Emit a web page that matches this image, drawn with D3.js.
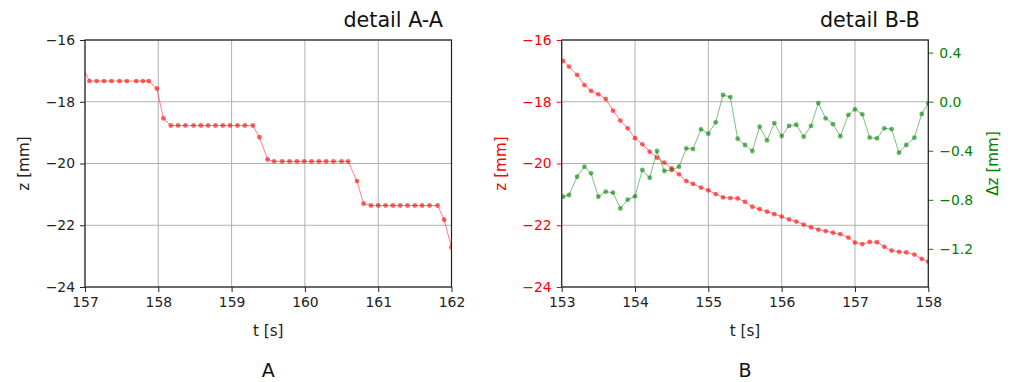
<!DOCTYPE html>
<html>
<head>
<meta charset="utf-8">
<script src="https://cdn.jsdelivr.net/npm/d3@7/dist/d3.min.js"></script>
<style>
  html, body { margin: 0; padding: 0; background: #fff; }
  text { font-family: "DejaVu Sans", sans-serif; }
</style>
</head>
<body>
<svg id="chart" width="1012" height="382"></svg>
<script>
// ---- data: detail A-A ----
const tA = [156.96, 157.06, 157.16, 157.26, 157.36, 157.47, 157.57, 157.70, 157.79, 157.87,
  157.98, 158.07,
  158.17, 158.27, 158.37, 158.48, 158.58, 158.68, 158.78, 158.88, 158.98, 159.08, 159.18, 159.29,
  159.38, 159.49,
  159.58, 159.69, 159.79, 159.89, 159.99, 160.09, 160.19, 160.29, 160.39, 160.50, 160.59,
  160.71, 160.80,
  160.90, 161.00, 161.10, 161.20, 161.30, 161.40, 161.50, 161.60, 161.70, 161.81,
  161.90, 162.00];
const zA = [-16.83, -17.33, -17.33, -17.33, -17.33, -17.33, -17.33, -17.33, -17.33, -17.33,
  -17.57, -18.54,
  -18.77, -18.77, -18.77, -18.77, -18.77, -18.77, -18.77, -18.77, -18.77, -18.77, -18.77, -18.77,
  -19.15, -19.87,
  -19.93, -19.93, -19.93, -19.93, -19.93, -19.93, -19.93, -19.93, -19.93, -19.93, -19.93,
  -20.57, -21.30,
  -21.36, -21.36, -21.36, -21.36, -21.36, -21.36, -21.36, -21.36, -21.36, -21.36,
  -21.82, -22.72];

// ---- data: detail B-B ----
const tB = [153.02, 153.10, 153.21, 153.31, 153.40, 153.50, 153.60, 153.70, 153.80, 153.90,
  154.00, 154.10, 154.20, 154.30, 154.40, 154.50, 154.60, 154.70, 154.79, 154.90,
  155.00, 155.10, 155.20, 155.30, 155.40, 155.50, 155.60, 155.70, 155.80, 155.90,
  156.00, 156.10, 156.20, 156.30, 156.40, 156.50, 156.60, 156.70, 156.80, 156.91,
  157.00, 157.10, 157.20, 157.30, 157.40, 157.50, 157.60, 157.70, 157.81, 157.91, 158.00];
const zB = [-16.68, -16.86, -17.13, -17.46, -17.65, -17.76, -17.91, -18.29, -18.61, -18.86,
  -19.18, -19.38, -19.62, -19.81, -19.97, -20.16, -20.35, -20.57, -20.66, -20.78,
  -20.87, -20.99, -21.10, -21.12, -21.13, -21.24, -21.40, -21.48, -21.56, -21.64,
  -21.72, -21.81, -21.88, -21.98, -22.07, -22.14, -22.19, -22.24, -22.29, -22.40,
  -22.56, -22.61, -22.54, -22.55, -22.70, -22.82, -22.86, -22.88, -22.95, -23.09, -23.18];
const dzB = [-0.775, -0.761, -0.612, -0.530, -0.584, -0.775, -0.734, -0.742, -0.870, -0.799,
  -0.772, -0.557, -0.620, -0.402, -0.565, -0.557, -0.530, -0.380, -0.386, -0.225,
  -0.261, -0.168, 0.055, 0.038, -0.302, -0.353, -0.402, -0.204, -0.315, -0.174,
  -0.280, -0.198, -0.188, -0.285, -0.198, -0.011, -0.136, -0.183, -0.282, -0.108,
  -0.062, -0.103, -0.293, -0.299, -0.217, -0.223, -0.416, -0.353, -0.294, -0.100, -0.013];

// ---- tick labels ----
const xTicksA = [157, 158, 159, 160, 161, 162];
const xTicksB = [153, 154, 155, 156, 157, 158];
const zTicks = [-16, -18, -20, -22, -24];
const dzTicks = [0.4, 0.0, -0.4, -0.8, -1.2];

const svg = d3.select("#chart");
const plotTop = 40, plotBottom = 287;
const RED = "#ff0000", GREEN = "#008000";
const TICK_FS = 13.9, LABEL_FS = 15.2, TITLE_FS = 20.7, LETTER_FS = 19;
const fmt = v => (v < 0 ? "\u2212" : "") + Math.abs(v);
const fmt1 = v => (v < 0 ? "\u2212" : "") + Math.abs(v).toFixed(1);

const defs = svg.append("defs");

function panel(opt) {
  const x = d3.scaleLinear().domain(opt.xdom).range([opt.left, opt.right]);
  const y = d3.scaleLinear().domain([-24, -16]).range([plotBottom, plotTop]);
  const g = svg.append("g");
  const clipId = "clip" + opt.id;
  defs.append("clipPath").attr("id", clipId).append("rect")
    .attr("x", opt.left).attr("y", plotTop).attr("width", opt.right - opt.left).attr("height", plotBottom - plotTop);

  // grid
  const grid = g.append("g").attr("stroke", "#b0b0b0").attr("stroke-width", 1);
  opt.xticks.forEach(v => grid.append("line").attr("x1", x(v)).attr("x2", x(v)).attr("y1", plotTop).attr("y2", plotBottom));
  zTicks.forEach(v => grid.append("line").attr("x1", opt.left).attr("x2", opt.right).attr("y1", y(v)).attr("y2", y(v)));

  // bottom axis
  const xa = g.append("g").attr("transform", `translate(0,${plotBottom})`)
    .call(d3.axisBottom(x).tickValues(opt.xticks).tickFormat(d3.format("d")).tickSize(5).tickPadding(5));
  xa.select(".domain").remove();
  xa.selectAll("line").attr("stroke", "#222").attr("stroke-width", 1);
  xa.selectAll("text").attr("font-size", TICK_FS).attr("fill", "#222").attr("font-family", "DejaVu Sans");

  // left axis
  const ya = g.append("g").attr("transform", `translate(${opt.left},0)`)
    .call(d3.axisLeft(y).tickValues(zTicks).tickFormat(fmt).tickSize(5).tickPadding(5));
  ya.select(".domain").remove();
  ya.selectAll("line").attr("stroke", opt.zColor).attr("stroke-width", 1);
  ya.selectAll("text").attr("font-size", TICK_FS).attr("fill", opt.zColor).attr("font-family", "DejaVu Sans");

  // data
  const data = opt.t.map((t, i) => ({ t, z: opt.z[i] }));
  const dg = g.append("g").attr("clip-path", `url(#${clipId})`);
  if (opt.dz) {
    const y2 = d3.scaleLinear().domain([-1.511, 0.503]).range([plotBottom, plotTop]);
    const gd = opt.t.map((t, i) => ({ t, v: opt.dz[i] }));
    dg.append("path").datum(gd)
      .attr("d", d3.line().x(d => x(d.t)).y(d => y2(d.v)))
      .attr("fill", "none").attr("stroke", GREEN).attr("stroke-opacity", 0.5).attr("stroke-width", 1);
    dg.selectAll(".gp").data(gd).join("circle")
      .attr("cx", d => x(d.t)).attr("cy", d => y2(d.v)).attr("r", 2.4)
      .attr("fill", GREEN).attr("fill-opacity", 0.6);
    const ra = g.append("g").attr("transform", `translate(${opt.right},0)`)
      .call(d3.axisRight(y2).tickValues(dzTicks).tickFormat(fmt1).tickSize(5).tickPadding(6));
    ra.select(".domain").remove();
    ra.selectAll("line").attr("stroke", GREEN).attr("stroke-width", 1);
    ra.selectAll("text").attr("font-size", TICK_FS).attr("fill", GREEN).attr("font-family", "DejaVu Sans");
    g.append("text").attr("transform", `translate(${opt.right + 65},${(plotTop + plotBottom) / 2}) rotate(-90)`)
      .attr("text-anchor", "middle").attr("dominant-baseline", "central")
      .attr("font-size", LABEL_FS).attr("fill", GREEN).text("\u0394z [mm]");
  }
  dg.append("path").datum(data)
    .attr("d", d3.line().x(d => x(d.t)).y(d => y(d.z)))
    .attr("fill", "none").attr("stroke", RED).attr("stroke-opacity", 0.5).attr("stroke-width", 1);
  dg.selectAll(".rp").data(data).join("circle")
    .attr("cx", d => x(d.t)).attr("cy", d => y(d.z)).attr("r", 2.4)
    .attr("fill", RED).attr("fill-opacity", 0.6);

  // frame
  g.append("rect").attr("x", opt.left).attr("y", plotTop).attr("width", opt.right - opt.left).attr("height", plotBottom - plotTop)
    .attr("fill", "none").attr("stroke", "#222").attr("stroke-width", 1.2);

  // labels
  g.append("text").attr("x", (opt.left + opt.right) / 2).attr("y", 336)
    .attr("text-anchor", "middle").attr("font-size", LABEL_FS).attr("fill", "#222").text("t [s]");
  g.append("text").attr("transform", `translate(${opt.left - 61},${(plotTop + plotBottom) / 2}) rotate(-90)`)
    .attr("text-anchor", "middle").attr("dominant-baseline", "central")
    .attr("font-size", LABEL_FS).attr("fill", opt.zColor).text("z [mm]");
  g.append("text").attr("x", opt.right - 8.5).attr("y", 27).attr("text-anchor", "end")
    .attr("font-size", TITLE_FS).attr("fill", "#111").text(opt.title);
  g.append("text").attr("x", (opt.left + opt.right) / 2).attr("y", 377)
    .attr("text-anchor", "middle").attr("font-size", LETTER_FS).attr("fill", "#111").text(opt.letter);
}

panel({ id: "A", left: 85, right: 451.5, xdom: [157, 162], xticks: xTicksA, t: tA, z: zA,
  zColor: "#222", title: "detail A-A", letter: "A" });
panel({ id: "B", left: 561.7, right: 928.3, xdom: [153, 158], xticks: xTicksB, t: tB, z: zB, dz: dzB,
  zColor: RED, title: "detail B-B", letter: "B" });
</script>
</body>
</html>
